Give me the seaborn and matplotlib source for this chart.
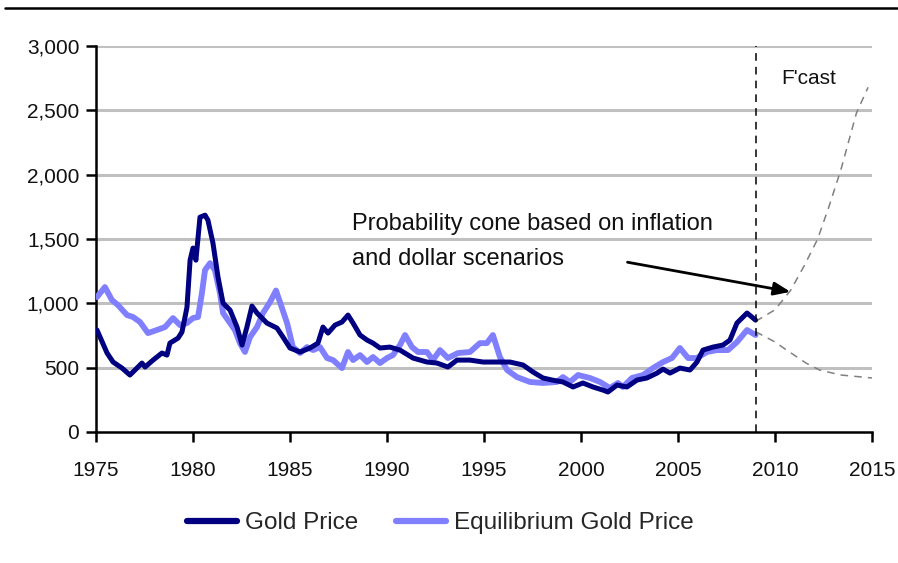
import matplotlib
matplotlib.use("Agg")
import matplotlib.pyplot as plt
from matplotlib.lines import Line2D
from matplotlib.ticker import FuncFormatter
import seaborn as sns
import pandas as pd

# ---------------- data ----------------
gold_years = [1975.05, 1975.57, 1975.88, 1976.34, 1976.75, 1977.11, 1977.37, 1977.53, 1977.94,
              1978.40, 1978.66, 1978.81, 1979.23, 1979.43, 1979.59, 1979.69, 1979.85, 1980.00,
              1980.15, 1980.36, 1980.62, 1980.77, 1981.03, 1981.29, 1981.55, 1981.91, 1982.27,
              1982.53, 1982.78, 1983.04, 1983.30, 1983.81, 1984.33, 1984.64, 1985.00, 1985.52,
              1986.03, 1986.44, 1986.70, 1986.96, 1987.32, 1987.68, 1987.99, 1988.25, 1988.61,
              1988.97, 1989.28, 1989.64, 1990.15, 1990.67, 1991.34, 1992.06, 1992.58, 1993.14,
              1993.61, 1994.28, 1994.95, 1995.67, 1996.34, 1997.01, 1997.53, 1998.04, 1998.51,
              1999.07, 1999.59, 2000.10, 2000.62, 2001.13, 2001.39, 2001.86, 2002.37, 2002.89,
              2003.40, 2003.92, 2004.23, 2004.59, 2005.10, 2005.62, 2005.98, 2006.29, 2006.80,
              2007.32, 2007.68, 2008.04, 2008.56, 2008.81, 2009.00]
gold_price = [793, 614, 544, 497, 443, 497, 536, 505, 559,
              614, 598, 691, 730, 777, 894, 970, 1336, 1430,
              1336, 1670, 1686, 1647, 1468, 1204, 1002, 948, 816,
              676, 816, 979, 925, 847, 808, 738, 653, 622,
              653, 691, 816, 769, 831, 855, 909, 847, 754,
              715, 691, 653, 660, 637, 575, 544, 536, 505,
              559, 559, 544, 544, 544, 521, 466, 420, 404,
              389, 350, 381, 350, 326, 311, 365, 350, 404,
              420, 458, 489, 458, 497, 482, 544, 637, 660,
              676, 715, 847, 925, 894, 870]

eq_years = [1975.05, 1975.46, 1975.82, 1976.13, 1976.60, 1976.91, 1977.27, 1977.68, 1978.14,
            1978.56, 1978.97, 1979.33, 1979.69, 1980.00, 1980.26, 1980.46, 1980.62, 1980.88,
            1981.13, 1981.39, 1981.55, 1981.91, 1982.16, 1982.42, 1982.68, 1982.94, 1983.30,
            1983.61, 1983.97, 1984.28, 1984.85, 1985.15, 1985.52, 1985.88, 1986.19, 1986.55,
            1986.91, 1987.22, 1987.68, 1987.99, 1988.25, 1988.61, 1988.97, 1989.28, 1989.64,
            1990.00, 1990.31, 1990.67, 1990.93, 1991.29, 1991.60, 1992.06, 1992.37, 1992.73,
            1993.14, 1993.66, 1994.28, 1994.79, 1995.15, 1995.46, 1995.82, 1996.19, 1996.70,
            1997.37, 1998.04, 1998.76, 1999.07, 1999.43, 1999.85, 2000.46, 2000.98, 2001.49,
            2001.91, 2002.16, 2002.63, 2003.20, 2003.71, 2004.23, 2004.69, 2005.10, 2005.52,
            2005.98, 2006.49, 2007.01, 2007.58, 2008.04, 2008.56, 2009.00]
eq_price = [1049, 1127, 1026, 987, 909, 894, 855, 769, 793,
            816, 886, 831, 847, 886, 894, 1080, 1259, 1313,
            1259, 1080, 925, 847, 793, 691, 622, 738, 816,
            925, 1010, 1100, 847, 660, 614, 660, 637, 660,
            575, 559, 497, 622, 559, 598, 544, 583, 536,
            575, 598, 676, 754, 660, 622, 622, 559, 637,
            575, 614, 622, 691, 691, 754, 583, 482, 427,
            389, 381, 389, 427, 389, 443, 420, 389, 342,
            381, 350, 420, 443, 497, 544, 575, 653, 575,
            575, 622, 637, 637, 699, 793, 754]

cone_up_years = [2009.0, 2010.0, 2010.8, 2011.5, 2012.2, 2012.8, 2013.4, 2014.2, 2014.8]
cone_up = [860, 950, 1100, 1290, 1500, 1760, 2040, 2480, 2680]
cone_lo_years = [2009.0, 2010.0, 2010.6, 2011.6, 2012.3, 2013.4, 2015.0]
cone_lo = [780, 700, 637, 536, 482, 443, 420]

x_ticks = [1975, 1980, 1985, 1990, 1995, 2000, 2005, 2010, 2015]
y_ticks = [0, 500, 1000, 1500, 2000, 2500, 3000]
forecast_start = 2009

series_labels = ["Gold Price", "Equilibrium Gold Price"]
annotation_text = "Probability cone based on inflation\nand dollar scenarios"
fcast_text = "F'cast"

# ---------------- style ----------------
sns.set_style("white")
FONT = ["Liberation Sans Narrow", "Liberation Sans", "DejaVu Sans"]
plt.rcParams["font.family"] = FONT

DARK = "#000080"
LIGHT = "#8080ff"

fig = plt.figure(figsize=(8.98, 5.63), dpi=100)
ax = fig.add_axes([0.1069, 0.2327, 0.8641, 0.6853])

df_gold = pd.DataFrame({"year": gold_years, "price": gold_price})
df_eq = pd.DataFrame({"year": eq_years, "price": eq_price})

for y in y_ticks[1:]:
    ax.axhline(y, color="#c0c0c0", lw=2.2, zorder=0)

sns.lineplot(data=df_eq, x="year", y="price", ax=ax, color=LIGHT, lw=4.2,
             solid_joinstyle="round", solid_capstyle="round", label=series_labels[1], zorder=3,
             sort=False)
sns.lineplot(data=df_gold, x="year", y="price", ax=ax, color=DARK, lw=3.6,
             solid_joinstyle="round", solid_capstyle="round", label=series_labels[0], zorder=4,
             sort=False)

sns.lineplot(x=cone_up_years, y=cone_up, ax=ax, color="#808080", lw=1.1,
             linestyle=(0, (5, 4)), zorder=2)
sns.lineplot(x=cone_lo_years, y=cone_lo, ax=ax, color="#808080", lw=1.1,
             linestyle=(0, (5, 4)), zorder=2)

ax.axvline(forecast_start, color="black", lw=1.1, linestyle=(0, (5, 4)), zorder=5)

ax.set_xlim(1975, 2015)
ax.set_ylim(0, 3000)
ax.set_xticks(x_ticks)
ax.set_yticks(y_ticks)
ax.yaxis.set_major_formatter(FuncFormatter(lambda v, p: f"{int(v):,}"))
ax.set_xlabel("")
ax.set_ylabel("")

for s in ["top", "right"]:
    ax.spines[s].set_visible(False)
for s in ["left", "bottom"]:
    ax.spines[s].set_color("black")
    ax.spines[s].set_linewidth(1.8)

ax.tick_params(axis="both", direction="out", length=7, width=1.8, color="black",
               labelsize=15, labelcolor="#111111", bottom=True, left=True)
ax.tick_params(axis="x", pad=14)
ax.tick_params(axis="y", pad=5)

ax.text(1988.2, 1484, annotation_text, fontsize=17, color="#111111",
        ha="left", va="center", linespacing=1.75)
ax.annotate("", xy=(2010.8, 1090), xytext=(2002.4, 1320),
            arrowprops=dict(arrowstyle="-|>,head_length=1.0,head_width=0.4",
                            color="black", lw=2, shrinkA=0, shrinkB=0))
ax.text(2010.3, 2750, fcast_text, fontsize=15, color="#111111", ha="left", va="center")

# legend
ax.get_legend().remove()
handles = [Line2D([0], [0], color=DARK, lw=4.5, solid_capstyle="round"),
           Line2D([0], [0], color=LIGHT, lw=4.5, solid_capstyle="round")]
fig.legend(handles, series_labels, loc="center", bbox_to_anchor=(0.4905, 0.071),
           ncol=2, frameon=False, fontsize=17.5, handlelength=2.05, handletextpad=0.33,
           columnspacing=1.56)

# top rule
fig.add_artist(Line2D([0.006, 0.999], [0.985, 0.985], color="black", lw=1.8,
                      transform=fig.transFigure))

fig.savefig("out.png", dpi=100)
